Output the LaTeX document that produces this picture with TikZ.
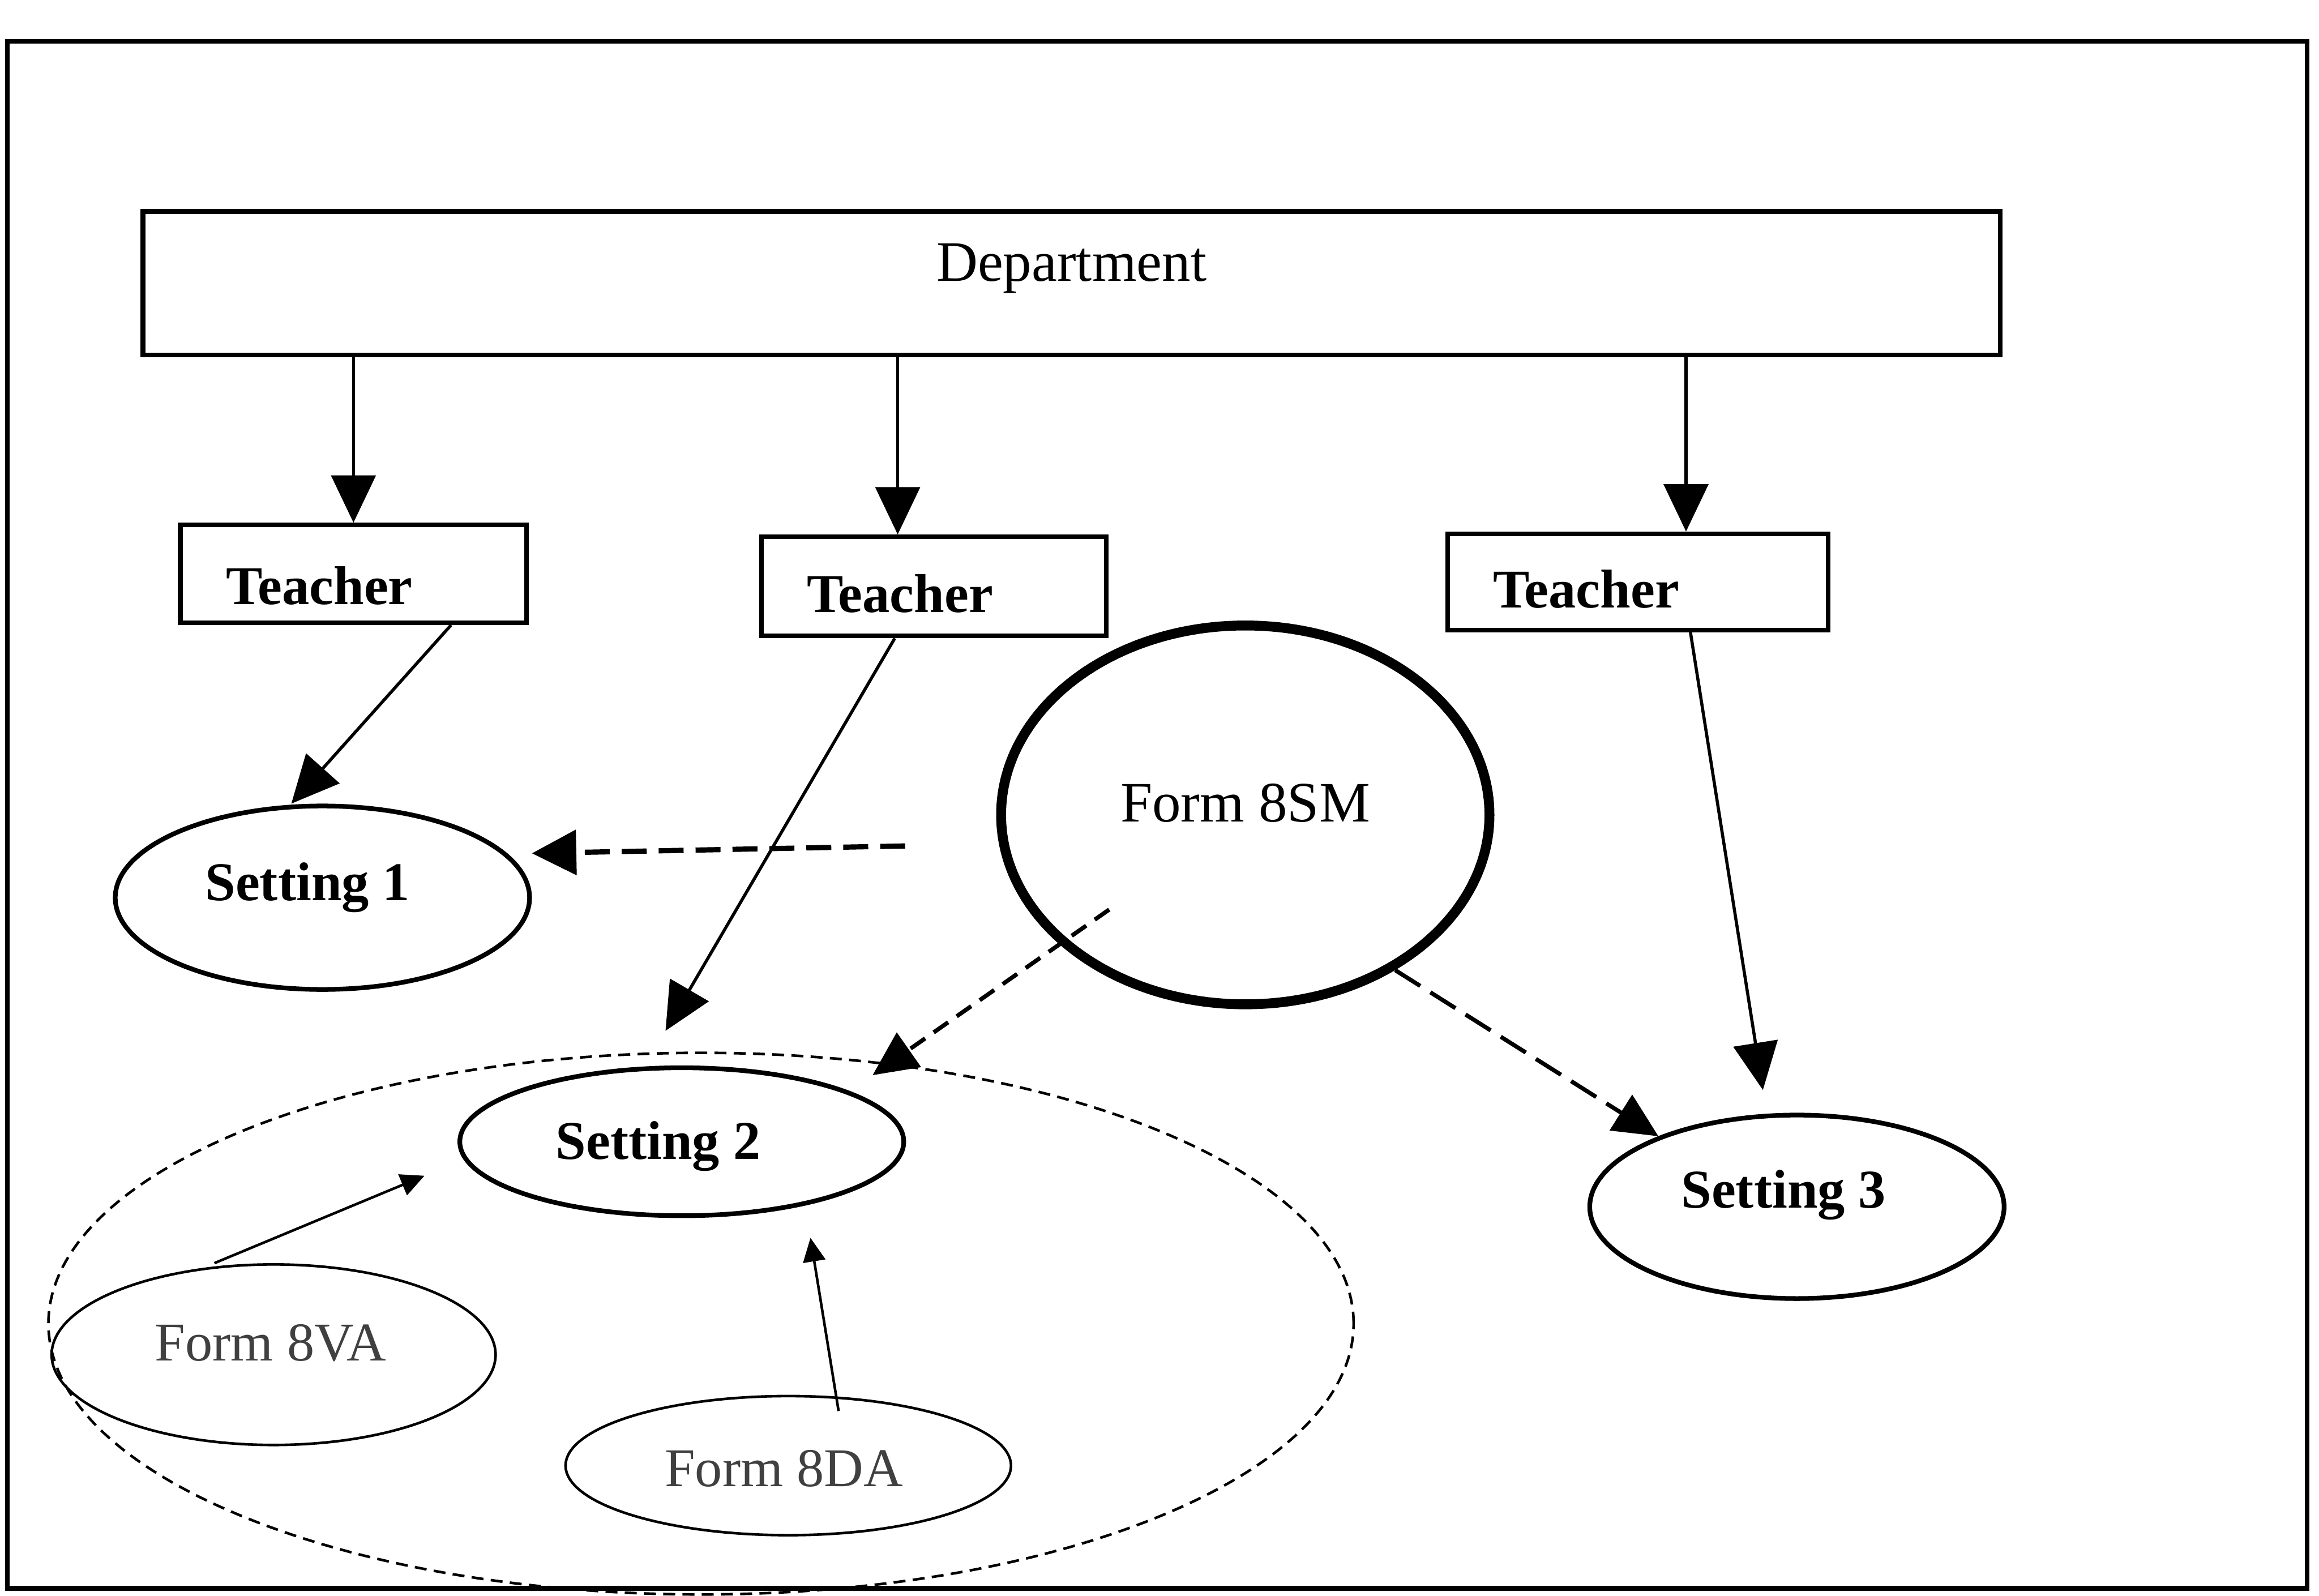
\documentclass[tikz,border=0pt]{standalone}
\usepackage{fontspec}
\setmainfont{Liberation Serif}
\usetikzlibrary{shapes.geometric,arrows.meta}
\begin{document}
\begin{tikzpicture}[x=0.01cm,y=-0.01cm,
  box/.style={draw, rectangle, line width=0.9pt, inner sep=0pt},
  oval/.style={draw, ellipse, line width=0.9pt, inner sep=0pt},
  thinoval/.style={draw, ellipse, line width=0.5pt, inner sep=0pt},
  plain/.style={font=\fontsize{11}{13}\selectfont},
  heavy/.style={font=\fontsize{10.5}{13}\selectfont\bfseries},
  faint/.style={font=\fontsize{10.5}{13}\selectfont, text=black!75},
  arr/.style={line width=0.6pt, -{Triangle[length=0.32cm,width=0.3cm]}},
  smallarr/.style={line width=0.5pt, -{Triangle[length=0.16cm,width=0.15cm]}},
  dashA/.style={line width=1pt, dash pattern=on 4.8pt off 2.3pt, -{Triangle[length=0.3cm,width=0.3cm]}},
  dashB/.style={line width=0.8pt, dash pattern=on 3.4pt off 2pt, -{Triangle[length=0.3cm,width=0.28cm]}},
  dashC/.style={line width=0.8pt, dash pattern=on 5.7pt off 2.3pt, -{Triangle[length=0.3cm,width=0.28cm]}},
]
\useasboundingbox (0,0) rectangle (1568,1079);

% outer frame
\draw[line width=0.9pt] (5,28) rectangle (1560,1074);

% department and teachers
\node[box, minimum width=12.55cm, minimum height=0.97cm,
      label={[plain, shift={(0,-10)}]center:Department}] (dept) at (724.5,191.5) {};
\node[box, minimum width=2.34cm, minimum height=0.66cm,
      label={[heavy, shift={(-23,8)}]center:Teacher}] (t1) at (239,388) {};
\node[box, minimum width=2.33cm, minimum height=0.67cm,
      label={[heavy, shift={(-23,5)}]center:Teacher}] (t2) at (631.5,396.5) {};
\node[box, minimum width=2.57cm, minimum height=0.65cm,
      label={[heavy, shift={(-35,5)}]center:Teacher}] (t3) at (1107.5,393.5) {};

% settings and forms
\node[oval, minimum width=2.80cm, minimum height=1.24cm,
      label={[heavy, shift={(-10,-7)}]center:Setting 1}] (s1) at (218,607) {};
\node[draw, ellipse, line width=1.9pt, inner sep=0pt, minimum width=3.30cm, minimum height=2.56cm,
      label={[plain, shift={(0,-8)}]center:Form 8SM}] (f8sm) at (842,551) {};
\node[oval, minimum width=2.80cm, minimum height=1.24cm,
      label={[heavy, shift={(-9,-8)}]center:Setting 3}] (s3) at (1215,816) {};
\node[draw, ellipse, line width=0.5pt, dash pattern=on 2.3pt off 1.4pt, inner sep=0pt,
      minimum width=8.82cm, minimum height=3.66cm] (grp) at (474,895) {};
\node[oval, minimum width=3.00cm, minimum height=1.00cm,
      label={[heavy, shift={(-16,3)}]center:Setting 2}] (s2) at (461,772) {};
\node[thinoval, minimum width=3.00cm, minimum height=1.22cm,
      label={[faint, shift={(-2,-8)}]center:Form 8VA}] (f8va) at (185,916) {};
\node[thinoval, minimum width=3.01cm, minimum height=0.94cm,
      label={[faint, shift={(-3,2)}]center:Form 8DA}] (f8da) at (533,991) {};

% free ends of connectors
\coordinate (t2end) at (450,697);
\coordinate (t3end) at (1192,737);
\coordinate (smA) at (612,572);
\coordinate (smB) at (750,615);
\coordinate (grpin) at (590,727);
\coordinate (vaend) at (287,795);
\coordinate (daend) at (548,837);

% department to teachers
\draw[arr] (dept.south -| t1.north) -- (t1.north);
\draw[arr] ([xshift=-0.245cm]t2.north |- dept.south) -- ([xshift=-0.245cm]t2.north);
\draw[arr] ([xshift=0.325cm]t3.north |- dept.south) -- ([xshift=0.325cm]t3.north);

% teachers to settings
\draw[arr] ([xshift=0.66cm]t1.south) -- ([xshift=-0.21cm]s1.north);
\draw[arr] ([xshift=-0.265cm]t2.south) -- (t2end);
\draw[arr] ([xshift=0.355cm]t3.south) -- (t3end);

% form 8SM to settings
\draw[dashA] (smA) -- ([yshift=0.3cm]s1.east);
\draw[dashB] (smB) -- (grpin);
\draw[dashC] (f8sm.-46) -- (s3.153);

% forms inside setting 2 group
\draw[smallarr] ([xshift=-0.4cm]f8va.north) -- (vaend);
\draw[smallarr] ([xshift=0.34cm, yshift=-0.11cm]f8da.north) -- (daend);
\end{tikzpicture}
\end{document}
